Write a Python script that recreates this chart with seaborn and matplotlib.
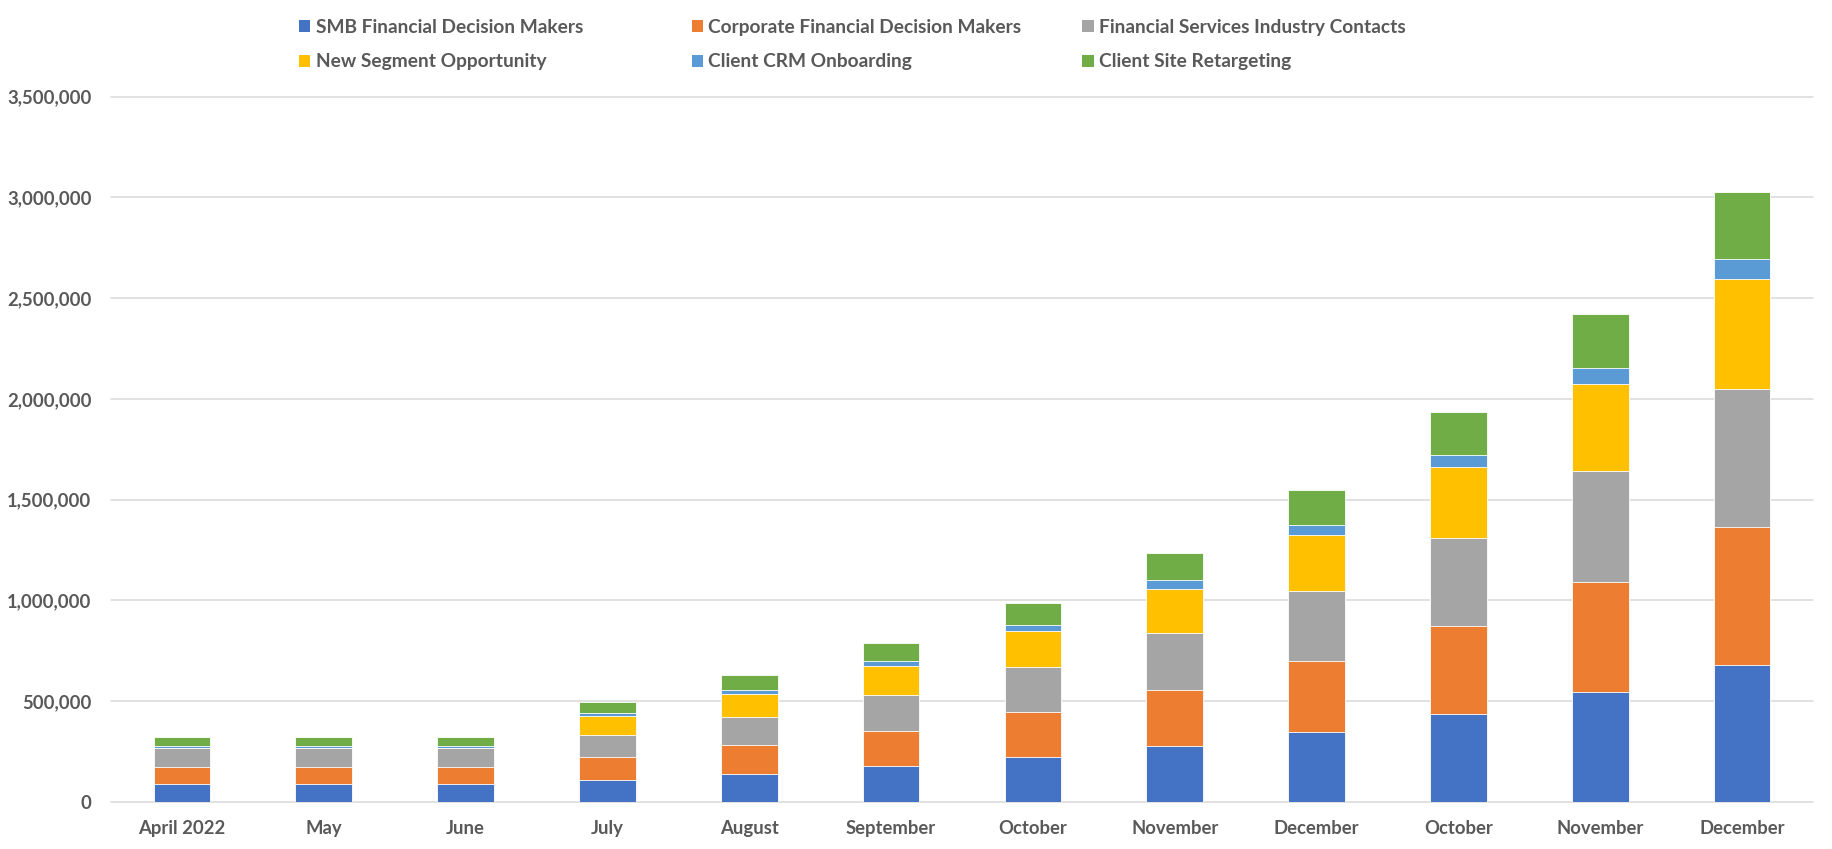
import numpy as np
import pandas as pd
import matplotlib
matplotlib.use("Agg")
import matplotlib.pyplot as plt
import matplotlib.patches as mpatches
from matplotlib.ticker import FuncFormatter
import seaborn as sns

months = ["April 2022", "May", "June", "July", "August", "September",
          "October", "November", "December", "October", "November", "December"]

series_names = ["SMB Financial Decision Makers", "Corporate Financial Decision Makers",
                "Financial Services Industry Contacts", "New Segment Opportunity",
                "Client CRM Onboarding", "Client Site Retargeting"]

smb = [87000, 87000, 87000, 111000, 139000, 177000, 221000, 278000, 347000, 438000, 546000, 682000]
corp = [88000, 88000, 88000, 111000, 142000, 177000, 223000, 278000, 351000, 436000, 547000, 681000]
fsic = [93000, 93000, 93000, 112000, 143000, 179000, 224000, 281000, 347000, 437000, 547000, 685000]
nso = [0, 0, 0, 93000, 114000, 143000, 179000, 221000, 281000, 352000, 434000, 548000]
crm = [11000, 11000, 11000, 13000, 19000, 22000, 30000, 42000, 48000, 59000, 78000, 97000]
ret = [45000, 45000, 45000, 58000, 71000, 91000, 112000, 138000, 174000, 215000, 268000, 336000]

colors = ["#4472C4", "#ED7D31", "#A5A5A5", "#FFC000", "#5B9BD5", "#70AD47"]

yticks = [0, 500000, 1000000, 1500000, 2000000, 2500000, 3000000, 3500000]

sns.set_theme(style="white")
plt.rcParams["font.family"] = ["Lato", "DejaVu Sans"]
plt.rcParams["font.weight"] = "bold"

text_color = "#595959"
grid_color = "#D9D9D9"

fig = plt.figure(figsize=(18.32, 8.49), dpi=100)
ax = fig.add_axes([0.0606, 0.0554, 0.9290, 0.8307])

pos = np.arange(len(months))
values = np.array([smb, corp, fsic, nso, crm, ret], dtype=float)
cum = np.cumsum(values, axis=0)

# draw from tallest cumulative down so each segment shows
for i in reversed(range(len(series_names))):
    df = pd.DataFrame({"pos": pos, "val": cum[i]})
    sns.barplot(data=df, x="pos", y="val", color=colors[i], saturation=1,
                width=0.4, edgecolor="white", linewidth=0.6, errorbar=None, ax=ax)

ax.set_xlim(-0.5, len(months) - 0.5)
ax.set_ylim(0, 3500000)
ax.set_yticks(yticks)
ax.yaxis.set_major_formatter(FuncFormatter(lambda v, p: f"{int(v):,}"))
ax.set_xticks(pos)
ax.set_xticklabels(months)
ax.set_xlabel("")
ax.set_ylabel("")

ax.grid(axis="y", color=grid_color, linewidth=1.1)
ax.set_axisbelow(True)
for gl in ax.get_ygridlines():
    gl.set_clip_on(False)
for s in ax.spines.values():
    s.set_visible(False)

ax.tick_params(axis="x", length=0, pad=13, labelsize=13.3, labelcolor=text_color)
ax.tick_params(axis="y", length=0, pad=14, labelsize=13.3, labelcolor=text_color)
for lab in ax.get_xticklabels() + ax.get_yticklabels():
    lab.set_fontweight("bold")

handles = [mpatches.Patch(facecolor=c, edgecolor="none", label=n) for c, n in zip(colors, series_names)]
col_x = [0.156, 0.3703, 0.5835]
for j in range(3):
    fig.legend(handles=[handles[j], handles[j + 3]], loc="upper left",
               bbox_to_anchor=(col_x[j], 0.994), frameon=False, ncol=1,
               handlelength=0.58, handleheight=0.58, handletextpad=0.27,
               labelspacing=0.93, borderaxespad=0.3,
               prop={"size": 13.8, "weight": "bold"}, labelcolor=text_color)

fig.savefig("out.png", dpi=100)
